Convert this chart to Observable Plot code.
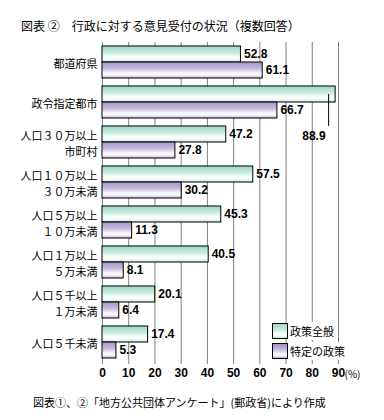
<!DOCTYPE html>
<html>
<head>
<meta charset="utf-8">
<script src="https://cdn.jsdelivr.net/npm/d3@7"></script>
<script src="https://cdn.jsdelivr.net/npm/@observablehq/plot@0.6"></script>
<style>
  body { margin: 0; background: #fff; }
  #wrap { position: relative; width: 384px; height: 420px; font-family: "Noto Sans CJK JP", sans-serif; color: #000; }
  #title { position: absolute; left: 21px; top: 17px; font-size: 12px; white-space: nowrap; }
  #chart { position: absolute; left: 0; top: 36px; }
  #legend { position: absolute; left: 272px; top: 323px; font-size: 11px; }
  .lrow { position: relative; height: 16px; margin-bottom: 4px; }
  .lbox { position: absolute; left: 0; top: 0; width: 16px; height: 16px; box-sizing: border-box; border: 1px solid #000; }
  .ltext { position: absolute; left: 17px; top: -1px; background: #fff; padding: 0 2px 0 1px; white-space: nowrap; line-height: 18px; }
  #caption { position: absolute; left: 33px; top: 394px; font-size: 11px; white-space: nowrap; }
</style>
</head>
<body>
<div id="wrap">
  <div id="title">図表 ②　行政に対する意見受付の状況（複数回答）</div>
  <div id="chart"></div>
  <div id="legend"></div>
  <div id="caption">図表①、②「地方公共団体アンケート」(郵政省)により作成</div>
</div>
<script>
const categories = [
  "都道府県",
  "政令指定都市",
  "人口３０万以上\n市町村",
  "人口１０万以上\n３０万未満",
  "人口５万以上\n１０万未満",
  "人口１万以上\n５万未満",
  "人口５千以上\n１万未満",
  "人口５千未満"
];
const series = ["政策全般", "特定の政策"];
const generalValues = [52.8, 88.9, 47.2, 57.5, 45.3, 40.5, 20.1, 17.4];
const specificValues = [61.1, 66.7, 27.8, 30.2, 11.3, 8.1, 6.4, 5.3];
const xTicks = [0, 10, 20, 30, 40, 50, 60, 70, 80, 90];
const calloutCategory = "政令指定都市";

const general = categories.map((c, i) => ({category: c, value: generalValues[i]}));
const specific = categories.map((c, i) => ({category: c, value: specificValues[i]}));
const generalInline = general.filter(d => d.category !== calloutCategory);
const generalCallout = general.filter(d => d.category === calloutCategory);

const numFont = "'Liberation Sans', Arial, sans-serif";

const chart = Plot.plot({
  width: 384,
  height: 346,
  marginTop: 6,
  marginLeft: 102,
  marginRight: 46,
  marginBottom: 20,
  style: {fontFamily: "'Noto Sans CJK JP', sans-serif", fontSize: "11px", color: "#000", background: "transparent"},
  x: {domain: [0, 90], ticks: xTicks},
  y: {domain: categories, padding: 0},
  marks: [
    Plot.gridX(xTicks, {stroke: "#808080", strokeOpacity: 1, strokeWidth: 1}),
    Plot.axisX({ticks: xTicks, tickSize: 2, stroke: "#808080", tickPadding: 4, fontWeight: "bold", fontSize: 12, fontFamily: numFont, label: null}),
    Plot.text(["(%)"], {text: d => d, frameAnchor: "bottom-right", textAnchor: "start", lineAnchor: "top", dx: 6, dy: 8, fontSize: 10}),
    Plot.axisY({tickSize: 0, tickPadding: 5, lineHeight: 1.45, fontSize: 11, label: null}),
    Plot.barX(general, {x: "value", y: "category", insetTop: 4, insetBottom: 20, fill: "url(#gradGreen)", stroke: "#000", strokeWidth: 1}),
    Plot.barX(specific, {x: "value", y: "category", insetTop: 20, insetBottom: 4, fill: "url(#gradPurple)", stroke: "#000", strokeWidth: 1}),
    Plot.text(generalInline, {x: "value", y: "category", text: d => d.value.toFixed(1), dx: 3, dy: -8, textAnchor: "start", fontWeight: "bold", fontSize: 12, fontFamily: numFont}),
    Plot.text(specific, {x: "value", y: "category", text: d => d.value.toFixed(1), dx: 3, dy: 8, textAnchor: "start", fontWeight: "bold", fontSize: 12, fontFamily: numFont}),
    Plot.tickX(generalCallout, {x: "value", y: "category", dx: -7, insetTop: 12, insetBottom: -4, stroke: "#000", strokeWidth: 1}),
    Plot.text(generalCallout, {x: "value", y: "category", text: d => d.value.toFixed(1), dx: -10, dy: 34, textAnchor: "end", fontWeight: "bold", fontSize: 12, fontFamily: numFont})
  ]
});

const defs = d3.select(chart).insert("defs", ":first-child");
function grad(id, stops) {
  const g = defs.append("linearGradient").attr("id", id)
    .attr("x1", 0).attr("y1", 0).attr("x2", 0).attr("y2", 1);
  stops.forEach(([o, c]) => g.append("stop").attr("offset", o).attr("stop-color", c));
}
const greenStops = [[0, "#a2d9c7"], [0.4, "#c6ebde"], [0.72, "#ffffff"], [0.86, "#eef9f5"], [1, "#bfe6d8"]];
const purpleStops = [[0, "#a393c6"], [0.4, "#c6bbe0"], [0.74, "#ffffff"], [0.87, "#ebe6f4"], [1, "#bcb0d9"]];
grad("gradGreen", greenStops);
grad("gradPurple", purpleStops);
document.getElementById("chart").appendChild(chart);

const cssGrad = stops => "linear-gradient(to bottom, " + stops.map(([o, c]) => c + " " + (o * 100) + "%").join(", ") + ")";
const legend = document.getElementById("legend");
[[series[0], greenStops], [series[1], purpleStops]].forEach(([name, stops]) => {
  const row = document.createElement("div");
  row.className = "lrow";
  const box = document.createElement("div");
  box.className = "lbox";
  box.style.background = cssGrad(stops);
  const t = document.createElement("span");
  t.className = "ltext";
  t.textContent = name;
  row.appendChild(box);
  row.appendChild(t);
  legend.appendChild(row);
});
</script>
</body>
</html>
